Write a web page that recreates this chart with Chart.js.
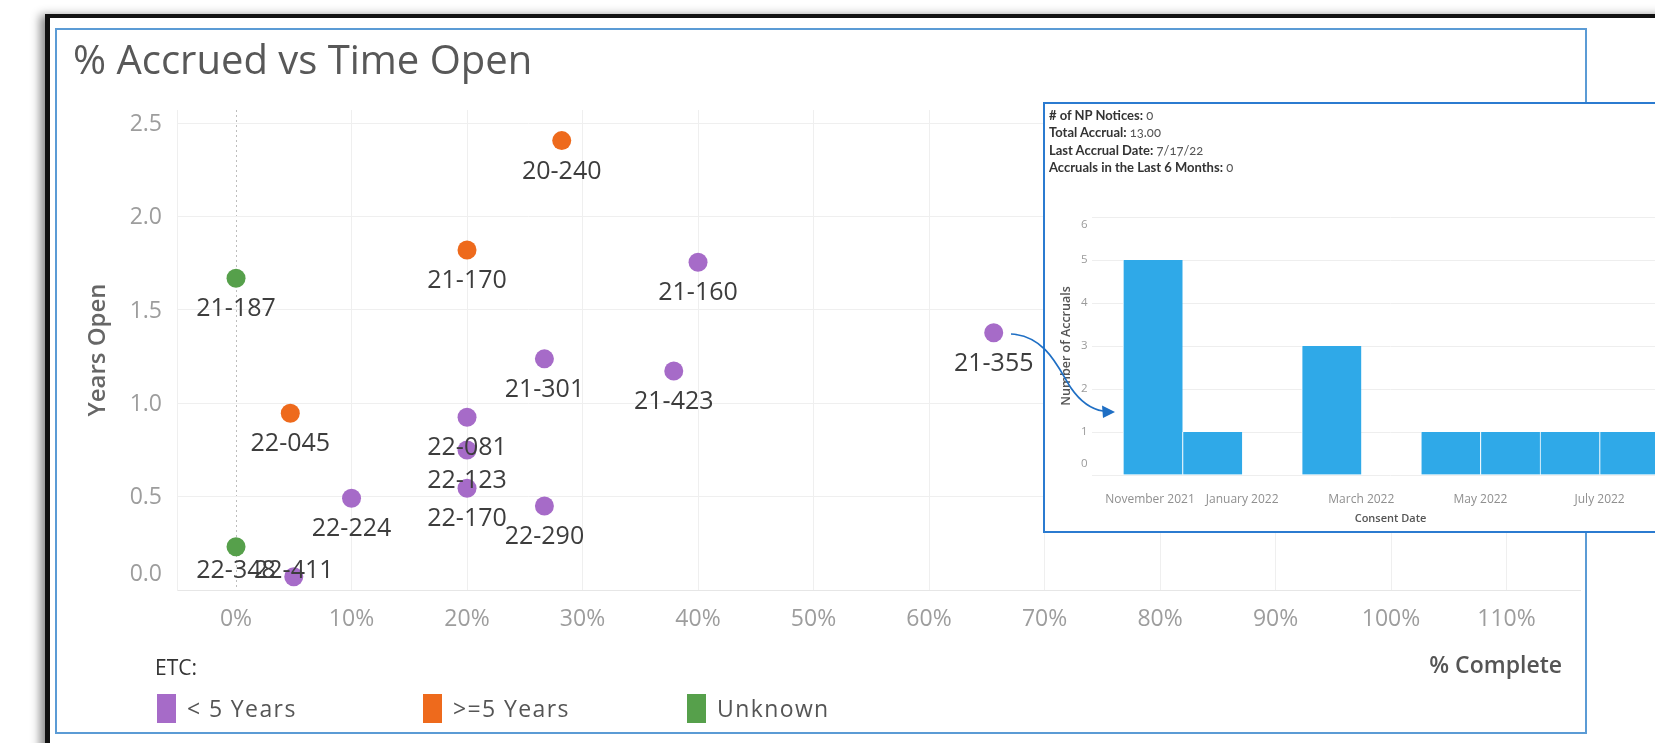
<!DOCTYPE html>
<html>
<head>
<meta charset="utf-8">
<script src="https://cdn.jsdelivr.net/npm/chart.js@4.4.0/dist/chart.umd.min.js"></script>
<style>
  html, body { margin:0; padding:0; }
  body { width:1655px; height:743px; overflow:hidden; background:#fff; position:relative; font-family:"Open Sans", sans-serif; }
  #blackframe { position:absolute; left:45px; top:14px; width:1700px; height:800px; border-left:5px solid #111; border-top:4px solid #111; box-shadow:-5px 1px 9px rgba(0,0,0,0.45); background:#fff; }
  #blueframe { position:absolute; left:55px; top:28px; width:1528px; height:702px; border:2px solid #5b9bd5; }
  #mainCanvas { position:absolute; left:0; top:0; }
  #title { position:absolute; left:73px; top:39px; font-size:40px; line-height:40px; color:#585858; white-space:nowrap; }
  #legendTitle { position:absolute; left:155px; top:656px; font-size:21px; line-height:22px; color:#333; }
  .lgItem { position:absolute; top:694px; height:29px; display:flex; align-items:center; }
  .lgSwatch { width:19px; height:29px; margin-right:11px; }
  .lgText { font-size:23px; line-height:23px; letter-spacing:1.4px; color:#555; white-space:nowrap; }
  #tooltip { position:absolute; left:1043px; top:102px; width:700px; height:427px; border:2px solid #2b7bd0; background:#fff; }
  #ttText { position:absolute; left:4px; top:3px; font-family:Lato, "Open Sans", sans-serif; font-size:13px; line-height:17.4px; z-index:2; }
  #ttText .lab { font-weight:700; color:#333; }
  #ttText .val { font-weight:400; color:#555; font-variant-numeric:oldstyle-nums; }
  #innerCanvas { position:absolute; left:0; top:0; }
  #arrow { position:absolute; left:0; top:0; pointer-events:none; }
</style>
</head>
<body>
<div id="blackframe"></div>
<div id="blueframe"></div>
<canvas id="mainCanvas" width="1655" height="743" style="width:1655px;height:743px"></canvas>
<div id="title">% Accrued vs Time Open</div>
<div id="legendTitle">ETC:</div>
<div id="legend"></div>
<div id="tooltip">
  <div id="ttText"></div>
  <canvas id="innerCanvas" width="700" height="427" style="width:700px;height:427px"></canvas>
</div>
<svg id="arrow" width="1655" height="743" viewBox="0 0 1655 743">
  <path d="M1011,334 C1047,336 1059,370 1071,388 C1080,401 1090,409 1103,411" fill="none" stroke="#1f6fc4" stroke-width="1.7"/>
  <polygon points="1115,412 1102,405.5 1103,418" fill="#1f6fc4"/>
</svg>
<script>
// ---------------- DATA ----------------
const projectIds  = ['20-240','21-170','21-160','21-187','21-355','21-301','21-423','22-045','22-081','22-123','22-170','22-224','22-290','22-348','22-411'];
const pctComplete = [0.282, 0.20, 0.40, 0.0, 0.656, 0.267, 0.379, 0.047, 0.20, 0.20, 0.20, 0.10, 0.267, 0.0, 0.05];
const yearsOpen   = [2.407, 1.821, 1.756, 1.670, 1.378, 1.238, 1.173, 0.947, 0.925, 0.750, 0.545, 0.491, 0.450, 0.232, 0.071];
const etcGroup    = ['>=5 Years','>=5 Years','< 5 Years','Unknown','< 5 Years','< 5 Years','< 5 Years','>=5 Years','< 5 Years','< 5 Years','< 5 Years','< 5 Years','< 5 Years','Unknown','< 5 Years'];
const etcCategories = ['< 5 Years', '>=5 Years', 'Unknown'];
const etcColors     = ['#a66bc8', '#ee6a1c', '#56a04b'];
const xTickLabels = ['0%','10%','20%','30%','40%','50%','60%','70%','80%','90%','100%','110%'];
const yTickLabels = ['0.0','0.5','1.0','1.5','2.0','2.5'];

const tooltipLabels = ['# of NP Notices:', 'Total Accrual:', 'Last Accrual Date:', 'Accruals in the Last 6 Months:'];
const tooltipValues = ['0', '13.00', '7/17/22', '0'];

const consentMonths   = ['November 2021','December 2021','January 2022','February 2022','March 2022','April 2022','May 2022','June 2022','July 2022'];
const accrualCounts   = [5, 1, 0, 3, 0, 1, 1, 1, 1];
const monthTickLabels = ['November 2021','','January 2022','','March 2022','','May 2022','','July 2022',''];
const accrualTickLabels = ['0','1','2','3','4','5','6'];

// ---------------- HTML legend & tooltip text ----------------
const legendLefts = [157, 423, 687];
const legendEl = document.getElementById('legend');
etcCategories.forEach((c, i) => {
  const item = document.createElement('div');
  item.className = 'lgItem';
  item.style.left = legendLefts[i] + 'px';
  item.innerHTML = '<div class="lgSwatch" style="background:' + etcColors[i] + '"></div><div class="lgText"></div>';
  item.querySelector('.lgText').textContent = c;
  legendEl.appendChild(item);
});
const tt = document.getElementById('ttText');
tooltipLabels.forEach((l, i) => {
  const d = document.createElement('div');
  const a = document.createElement('span'); a.className = 'lab'; a.textContent = l + ' ';
  const b = document.createElement('span'); b.className = 'val'; b.textContent = tooltipValues[i];
  d.appendChild(a); d.appendChild(b); tt.appendChild(d);
});

// ---------------- helpers ----------------
const FONT = '"Open Sans", sans-serif';
const isZero = v => Math.abs(v) < 1e-9;
// keep edge tick labels inside the pane (like the original tool does)
function edgeLabelPlugin(axisId, nudges) {
  return {
    id: 'edge_' + axisId,
    beforeDraw(chart) {
      const s = chart.scales[axisId];
      const items = s.getLabelItems();
      if (items._nudged) return;
      nudges.forEach(([which, dx, dy]) => {
        const it = which === 'first' ? items[0] : items[items.length - 1];
        if (it && it.options && it.options.translation) {
          it.options.translation[0] += dx;
          it.options.translation[1] += dy;
        }
      });
      items._nudged = true;
    }
  };
}

// ---------------- MAIN SCATTER ----------------
const datasets = etcCategories.map((cat, ci) => {
  const idx = projectIds.map((_, i) => i).filter(i => etcGroup[i] === cat);
  return {
    label: cat,
    ids: idx.map(i => projectIds[i]),
    data: idx.map(i => ({ x: pctComplete[i], y: yearsOpen[i] })),
    backgroundColor: etcColors[ci],
    borderWidth: 0,
    pointRadius: 9.5,
    pointHoverRadius: 9.5
  };
});

const labelPlugin = {
  id: 'pointLabels',
  afterDatasetsDraw(chart) {
    const { ctx, chartArea } = chart;
    ctx.save();
    ctx.font = '400 25px ' + FONT;
    ctx.fillStyle = '#3d3d3d';
    ctx.textAlign = 'center';
    ctx.textBaseline = 'middle';
    chart.data.datasets.forEach((ds, di) => {
      chart.getDatasetMeta(di).data.forEach((pt, i) => {
        const y = Math.min(pt.y + 31, chartArea.bottom - 19);
        ctx.fillText(ds.ids[i], pt.x, y);
      });
    });
    ctx.font = '600 23px ' + FONT;
    ctx.fillStyle = '#555';
    ctx.textAlign = 'right';
    ctx.fillText('% Complete', chartArea.right - 18, 666);
    ctx.restore();
  }
};

new Chart(document.getElementById('mainCanvas'), {
  type: 'scatter',
  data: { datasets },
  options: {
    responsive: false,
    animation: false,
    events: [],
    layout: { padding: { left: 83.6, top: 110, right: 75, bottom: 93 } },
    plugins: { legend: { display: false }, tooltip: { enabled: false } },
    scales: {
      x: {
        type: 'linear',
        min: -0.0511, max: 1.1636,
        afterFit(s) { s.height = 60; },
        ticks: {
          stepSize: 0.1, includeBounds: false, padding: 16, autoSkip: false, maxRotation: 0,
          color: '#9d9d9d', font: { family: FONT, size: 23 },
          callback: v => xTickLabels[Math.round(v * 10)]
        },
        grid: {
          drawTicks: false,
          color: c => (c.tick && isZero(c.tick.value)) ? '#bdbdbd' : '#efefef',
          lineWidth: 1
        },
        border: { display: true, color: '#e6e6e6', dash: c => (c.tick && isZero(c.tick.value)) ? [2, 3] : [] }
      },
      y: {
        type: 'linear',
        min: 0, max: 2.571,
        afterFit(s) { s.width = 93.4; },
        ticks: {
          stepSize: 0.5, includeBounds: false, padding: 15, labelOffset: 1,
          color: '#9d9d9d', font: { family: FONT, size: 23 },
          callback: v => yTickLabels[Math.round(v * 2)]
        },
        grid: { drawTicks: false, color: '#efefef', lineWidth: 1 },
        border: { display: true, color: '#efefef' },
        title: { display: true, text: 'Years Open', color: '#666', padding: 0, font: { family: FONT, size: 24, weight: '600' } }
      }
    }
  },
  plugins: [labelPlugin, edgeLabelPlugin('y', [['first', 0, -17]])]
});

// ---------------- TOOLTIP BAR CHART ----------------
new Chart(document.getElementById('innerCanvas'), {
  type: 'bar',
  data: {
    datasets: [{
      label: 'Number of Accruals',
      data: accrualCounts.map((v, i) => ({ x: i + 0.5, y: v })),
      backgroundColor: '#2fa9e8',
      borderColor: '#ffffff',
      borderWidth: { left: 1, right: 0, top: 0, bottom: 0 },
      borderSkipped: false,
      barPercentage: 1,
      categoryPercentage: 1
    }]
  },
  options: {
    responsive: false,
    animation: false,
    events: [],
    layout: { padding: { left: 13.5, top: 113, right: 56, bottom: 5.5 } },
    plugins: { legend: { display: false }, tooltip: { enabled: false } },
    scales: {
      x: {
        type: 'linear',
        offset: false,
        min: -0.52, max: 9.5,
        afterFit(s) { s.height = 50.5; },
        ticks: {
          stepSize: 1, includeBounds: false, autoSkip: false, maxRotation: 0, padding: 9,
          color: '#8f8f8f', font: { family: FONT, size: 12 },
          callback: v => monthTickLabels[Math.round(v)]
        },
        grid: { display: false, offset: false },
        border: { display: false },
        title: { display: true, text: 'Consent Date', color: '#555', padding: 0, font: { family: FONT, size: 11, weight: '600' } }
      },
      y: {
        min: 0, max: 6,
        afterFit(s) { s.width = 33.5; },
        ticks: {
          stepSize: 1, padding: 4.5,
          color: '#9a9a9a', font: { family: FONT, size: 11.5 },
          callback: v => accrualTickLabels[Math.round(v)]
        },
        grid: { drawTicks: false, color: '#eeeeee' },
        border: { display: false },
        title: { display: true, text: 'Number of Accruals', color: '#555', padding: 0, font: { family: FONT, size: 12.5, weight: '600' } }
      }
    }
  },
  plugins: [edgeLabelPlugin('x', [['first', 27, 0]]), edgeLabelPlugin('y', [['first', 0, -11], ['last', 0, 8]])]
});
</script>
</body>
</html>
